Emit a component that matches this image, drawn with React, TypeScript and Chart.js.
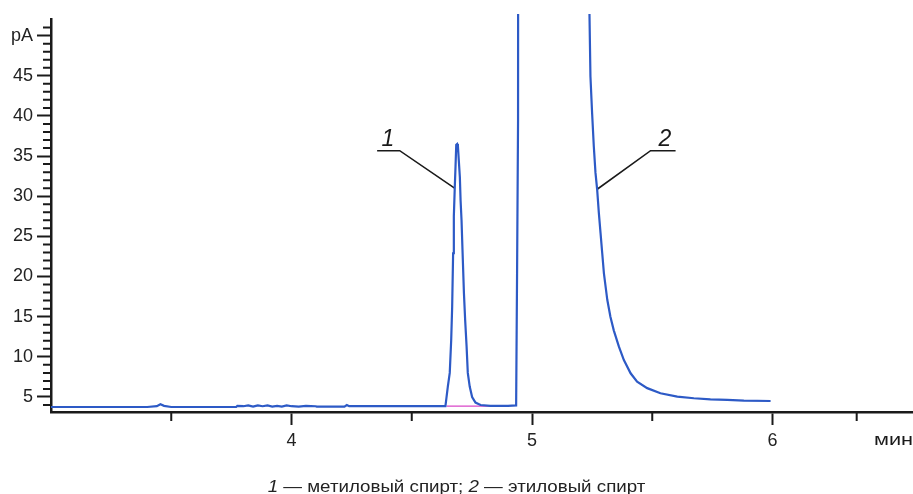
import React, { useEffect, useRef } from "react";
import { Chart, registerables } from "chart.js";

Chart.register(...registerables);

// ---- data ----
const retentionTimes = [
  3.0, 3.4, 3.44, 3.455, 3.47, 3.5, 3.77, 3.775, 3.8, 3.82, 3.84, 3.86, 3.88, 3.9, 3.92,
  3.94, 3.96, 3.98, 4.0, 4.03, 4.06, 4.1, 4.105, 4.22, 4.23, 4.24, 4.4, 4.6, 4.64,
  4.65, 4.658, 4.664, 4.668, 4.672, 4.675, 4.679, 4.682, 4.685, 4.689, 4.692, 4.696,
  4.7, 4.703, 4.707, 4.711, 4.717, 4.722, 4.728, 4.733, 4.741, 4.751, 4.765, 4.786,
  4.827, 4.9, 4.934, 4.938, 4.942, 4.946, 5.236, 5.239, 5.243, 5.25, 5.257, 5.264,
  5.271, 5.278, 5.285, 5.292, 5.299, 5.313, 5.326, 5.34, 5.361, 5.382, 5.41, 5.437,
  5.479, 5.534, 5.604, 5.673, 5.742, 5.812, 5.881, 5.992,
];
const signalPA = [
  3.75, 3.75, 3.85, 4.1, 3.9, 3.75, 3.75, 3.9, 3.85, 3.95, 3.8, 3.95, 3.85, 3.95, 3.8,
  3.9, 3.8, 3.95, 3.85, 3.8, 3.9, 3.85, 3.8, 3.8, 4.0, 3.85, 3.85, 3.85, 3.85,
  6.3, 8.0, 12.1, 16.2, 22.9, 27.5, 31.2, 33.7, 36.4, 36.5, 36.2, 34.3,
  32.4, 29.5, 27.0, 23.3, 17.9, 14.6, 11.3, 8.0, 6.3, 5.0, 4.3, 4.0,
  3.9, 3.9, 3.95, 20.8, 39.5, 300, 300, 52.6, 44.9, 40.3, 36.2, 32.9,
  30.8, 27.9, 25.4, 22.9, 20.4, 17.1, 15.0, 13.3, 11.3, 9.6, 7.95, 6.9,
  6.1, 5.46, 5.04, 4.84, 4.71, 4.63, 4.54, 4.5,
];

const integrationTimes = [4.645, 4.83];
const integrationLevels = [3.85, 3.85];

const leader1Times = [4.356, 4.45, 4.678];
const leader1Levels = [35.67, 35.67, 31.0];
const leader2Times = [5.597, 5.493, 5.271];
const leader2Levels = [35.67, 35.67, 30.87];

const peakLabels = ["1", "2"];
const peakLabelTimes = [4.401, 5.553];
const peakLabelLevels = [36.2, 36.2];

const yMajorTicks = [5, 10, 15, 20, 25, 30, 35, 40, 45, 50];
const yMinorTicks = [
  4, 6, 7, 8, 9, 11, 12, 13, 14, 16, 17, 18, 19, 21, 22, 23, 24, 26, 27, 28, 29, 31, 32,
  33, 34, 36, 37, 38, 39, 41, 42, 43, 44, 46, 47, 48, 49, 51,
];
const xMajorTicks = [4, 5, 6];
const xMinorTicks = [3.5, 4.5, 5.5, 6.35];

const yUnitLabel = "pA";
const xUnitLabel = "мин";
const captionNames = ["метиловый спирт", "этиловый спирт"];

const FONT = '"Liberation Sans", Arial, Helvetica, sans-serif';
const LINE_BLUE = "#2d5ac6";
const INK = "#1a1a1a";

function toPoints(xs: number[], ys: number[]) {
  return xs.map((x, i) => ({ x, y: ys[i] }));
}

const annotationPlugin = {
  id: "chromAnnotations",
  afterDraw(chart: any) {
    const { ctx, chartArea } = chart;
    const x = chart.scales.x;
    const y = chart.scales.y;
    ctx.save();
    ctx.strokeStyle = INK;
    ctx.lineWidth = 2;
    ctx.beginPath();
    yMinorTicks.forEach((v) => {
      const py = y.getPixelForValue(v);
      ctx.moveTo(chartArea.left - 8, py);
      ctx.lineTo(chartArea.left, py);
    });
    xMinorTicks.forEach((v) => {
      const px = x.getPixelForValue(v);
      ctx.moveTo(px, chartArea.bottom);
      ctx.lineTo(px, chartArea.bottom + 9);
    });
    ctx.stroke();

    ctx.fillStyle = INK;
    ctx.font = `italic 23px ${FONT}`;
    ctx.textAlign = "center";
    ctx.textBaseline = "alphabetic";
    peakLabels.forEach((t, i) => {
      ctx.fillText(t, x.getPixelForValue(peakLabelTimes[i]), y.getPixelForValue(peakLabelLevels[i]));
    });

    ctx.font = `17px ${FONT}`;
    ctx.textAlign = "left";
    ctx.translate(chartArea.right - 38, chartArea.bottom + 33);
    ctx.scale(1.28, 1);
    ctx.fillText(xUnitLabel, 0, 0);
    ctx.restore();
  },
};

export default function App() {
  const ref = useRef<HTMLCanvasElement>(null);

  useEffect(() => {
    document.body.style.margin = "0";
    const chart = new Chart(ref.current as HTMLCanvasElement, {
      type: "line",
      data: {
        datasets: [
          {
            data: toPoints(retentionTimes, signalPA),
            borderColor: LINE_BLUE,
            borderWidth: 2.2,
            pointRadius: 0,
            tension: 0,
            clip: { left: 0, top: 5, right: 0, bottom: 0 } as any,
          },
          {
            data: toPoints(integrationTimes, integrationLevels),
            borderColor: "#d946c8",
            borderWidth: 1.2,
            pointRadius: 0,
          },
          {
            data: toPoints(leader1Times, leader1Levels),
            borderColor: INK,
            borderWidth: 1.6,
            pointRadius: 0,
          },
          {
            data: toPoints(leader2Times, leader2Levels),
            borderColor: INK,
            borderWidth: 1.6,
            pointRadius: 0,
          },
        ],
      },
      options: {
        responsive: false,
        animation: false,
        events: [],
        layout: { padding: { top: 19, right: 1, bottom: 42, left: 0 } },
        plugins: { legend: { display: false }, tooltip: { enabled: false }, title: { display: false } },
        scales: {
          x: {
            type: "linear",
            min: 3.0,
            max: 6.58,
            afterBuildTicks: (s: any) => {
              s.ticks = xMajorTicks.map((v) => ({ value: v }));
            },
            afterFit: (s: any) => {
              s.height = 40;
            },
            ticks: {
              callback: (v: any) => String(v),
              font: { family: FONT, size: 18 },
              color: "#222",
              padding: 5,
              maxRotation: 0,
            },
            grid: {
              display: true,
              drawOnChartArea: false,
              drawTicks: true,
              tickLength: 13,
              tickWidth: 2,
              tickColor: INK,
            },
            border: { display: true, color: INK, width: 2.5 },
          },
          y: {
            type: "linear",
            min: 3.13,
            max: 52.07,
            afterBuildTicks: (s: any) => {
              s.ticks = yMajorTicks.map((v) => ({ value: v }));
            },
            afterFit: (s: any) => {
              s.width = 51;
            },
            ticks: {
              callback: (v: any) => (v === 50 ? yUnitLabel : String(v)),
              font: { family: FONT, size: 18 },
              color: "#222",
              padding: 4,
            },
            grid: {
              display: true,
              drawOnChartArea: false,
              drawTicks: true,
              tickLength: 14,
              tickWidth: 2,
              tickColor: INK,
            },
            border: { display: true, color: INK, width: 2.5 },
          },
        },
      },
      plugins: [annotationPlugin],
    });
    return () => chart.destroy();
  }, []);

  return (
    <div
      style={{
        position: "absolute",
        left: 0,
        top: 0,
        width: 913,
        height: 494,
        overflow: "hidden",
        background: "#fff",
      }}
    >
      <canvas ref={ref} width={913} height={494} style={{ display: "block", width: 913, height: 494 }} />
      <div
        style={{
          position: "absolute",
          left: 0,
          top: 479,
          width: 913,
          textAlign: "center",
          fontFamily: FONT,
          fontSize: 16,
          lineHeight: "16px",
          color: "#222",
          transform: "scaleX(1.17)",
          whiteSpace: "nowrap",
        }}
      >
        <i>1</i> — {captionNames[0]}; <i>2</i> — {captionNames[1]}
      </div>
    </div>
  );
}
